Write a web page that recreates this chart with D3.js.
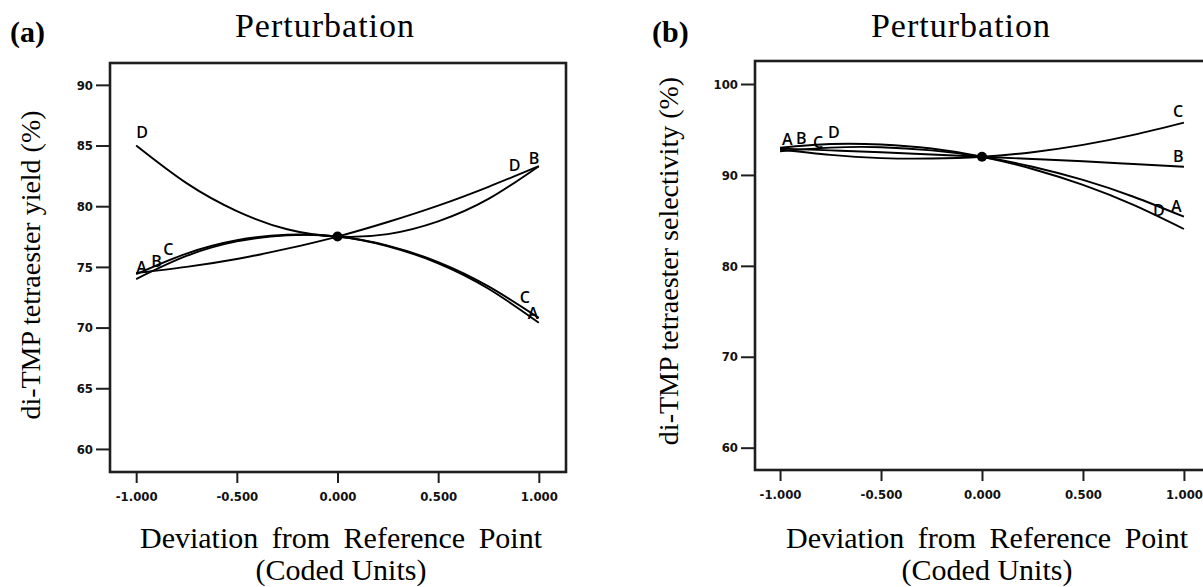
<!DOCTYPE html>
<html><head><meta charset="utf-8">
<script src="https://cdn.jsdelivr.net/npm/d3@7"></script>
<style>
html,body{margin:0;padding:0;background:#fff;}
svg{display:block;}
</style></head>
<body>
<svg id="chart" width="1203" height="587"></svg>
<script>
// ---- data ----
const xCoded = [-1, -0.75, -0.5, -0.25, 0, 0.25, 0.5, 0.75, 1];

// (a) di-TMP tetraester yield (%)
const yieldA = [74.0, 75.9, 77.1, 77.6, 77.5, 76.7, 75.3, 73.2, 70.4];
const yieldB = [74.5, 75.0, 75.65, 76.5, 77.5, 78.7, 80.05, 81.6, 83.3];
const yieldC = [74.4, 76.1, 77.2, 77.65, 77.5, 76.75, 75.4, 73.4, 70.8];
const yieldD = [85.0, 81.9, 79.6, 78.1, 77.5, 77.7, 78.75, 80.6, 83.3];

// (b) di-TMP tetraester selectivity (%)
const selA = [92.6, 93.0, 93.05, 92.7, 92.0, 90.9, 89.45, 87.6, 85.4];
const selB = [92.9, 92.7, 92.5, 92.25, 92.0, 91.75, 91.5, 91.2, 90.9];
const selC = [92.8, 92.2, 91.85, 91.8, 92.0, 92.5, 93.3, 94.4, 95.75];
const selD = [93.0, 93.4, 93.35, 92.9, 92.0, 90.65, 88.9, 86.7, 84.05];

const xTicks = [-1, -0.5, 0, 0.5, 1];
const xTickLabels = ["-1.000", "-0.500", "0.000", "0.500", "1.000"];
const yTicksA = [60, 65, 70, 75, 80, 85, 90];
const yTicksB = [60, 70, 80, 90, 100];
const refA = 77.5, refB = 92.0;

// ---- drawing ----
const svg = d3.select("#chart");
const serif = "'Liberation Serif','Times New Roman',serif";
const tickFont = "'DejaVu Sans Condensed','DejaVu Sans',sans-serif";
const labFont = "'Open Sans','DejaVu Sans',sans-serif";

function panel(cfg) {
  const g = svg.append("g");
  const x = d3.scaleLinear().domain(cfg.xDomain).range([cfg.left, cfg.right]);
  const y = d3.scaleLinear().domain(cfg.yDomain).range([cfg.bottom, cfg.top]);

  // frame
  g.append("rect").attr("x", cfg.left).attr("y", cfg.top)
    .attr("width", cfg.right - cfg.left).attr("height", cfg.bottom - cfg.top)
    .attr("fill", "none").attr("stroke", "#1e1e1e").attr("stroke-width", 2.6);

  // y axis
  const ya = g.append("g").attr("transform", `translate(${cfg.left - 1},0)`)
    .call(d3.axisLeft(y).tickValues(cfg.yTicks).tickSize(13).tickPadding(3).tickFormat(d3.format("d")));
  ya.select(".domain").remove();
  ya.selectAll("line").attr("stroke", "#1e1e1e").attr("stroke-width", 2);
  ya.selectAll("text").attr("font-family", tickFont).attr("font-weight", "bold")
    .attr("font-size", 13).attr("fill", "#111");

  // x axis
  const xa = g.append("g").attr("transform", `translate(0,${cfg.bottom + 1})`)
    .call(d3.axisBottom(x).tickValues(xTicks).tickSize(10).tickPadding(9)
      .tickFormat((d, i) => xTickLabels[i]));
  xa.select(".domain").remove();
  xa.selectAll("line").attr("stroke", "#1e1e1e").attr("stroke-width", 2);
  xa.selectAll("text").attr("font-family", tickFont).attr("font-weight", "bold")
    .attr("font-size", 13).attr("fill", "#111");

  // curves
  const line = d3.line().x((d, i) => x(xCoded[i])).y(d => y(d)).curve(d3.curveNatural);
  cfg.series.forEach(s => {
    g.append("path").datum(s.values).attr("d", line)
      .attr("fill", "none").attr("stroke", "#000").attr("stroke-width", 1.9);
  });

  // curve labels anchored at curve ends
  cfg.labels.forEach(l => {
    const s = cfg.series.find(q => q.name === l.name);
    const idx = l.end === "left" ? 0 : xCoded.length - 1;
    g.append("text")
      .attr("x", x(xCoded[idx]) + l.dx).attr("y", y(s.values[idx]) + l.dy)
      .attr("font-family", labFont).attr("font-weight", 600).attr("font-size", 16)
      .attr("fill", "#000").text(l.name);
  });

  // reference point
  g.append("circle").attr("cx", x(0)).attr("cy", y(cfg.ref)).attr("r", 5).attr("fill", "#000");

  // texts
  svg.append("text").attr("x", cfg.tagX).attr("y", 42).attr("font-family", serif)
    .attr("font-weight", "bold").attr("font-size", 30).text(cfg.tag);
  svg.append("text").attr("x", cfg.titleX).attr("y", 37).attr("text-anchor", "middle")
    .attr("font-family", serif).attr("font-size", 34).attr("letter-spacing", 1).text("Perturbation");
  svg.append("text").attr("x", cfg.xTitleX).attr("y", 548).attr("text-anchor", "middle")
    .attr("font-family", serif).attr("font-size", 30).attr("word-spacing", 6)
    .text("Deviation from Reference Point");
  svg.append("text").attr("x", cfg.xTitleX).attr("y", 580).attr("text-anchor", "middle")
    .attr("font-family", serif).attr("font-size", 30).text("(Coded Units)");
  svg.append("text").attr("transform", `translate(${cfg.yTitleX},${cfg.yTitleY}) rotate(-90)`)
    .attr("text-anchor", "middle").attr("font-family", serif).attr("font-size", 28)
    .text(cfg.yTitle);
}

panel({
  left: 110, right: 566, top: 63, bottom: 472,
  xDomain: [-1.13, 1.135], yDomain: [58.1, 91.8],
  yTicks: yTicksA, ref: refA,
  series: [
    {name: "A", values: yieldA}, {name: "B", values: yieldB},
    {name: "C", values: yieldC}, {name: "D", values: yieldD}
  ],
  labels: [
    {name: "D", end: "left", dx: 0, dy: -8},
    {name: "A", end: "left", dx: 0, dy: -6},
    {name: "B", end: "left", dx: 15, dy: -6},
    {name: "C", end: "left", dx: 27, dy: -19},
    {name: "D", end: "right", dx: -30, dy: 5},
    {name: "B", end: "right", dx: -10, dy: -2},
    {name: "C", end: "right", dx: -19, dy: -15},
    {name: "A", end: "right", dx: -11, dy: -4}
  ],
  tag: "(a)", tagX: 10, titleX: 325, xTitleX: 341,
  yTitle: "di-TMP tetraester yield (%)", yTitleX: 40, yTitleY: 265
});

panel({
  left: 755, right: 1211, top: 61, bottom: 470,
  xDomain: [-1.124, 1.134], yDomain: [57.545, 102.53],
  yTicks: yTicksB, ref: refB,
  series: [
    {name: "A", values: selA}, {name: "B", values: selB},
    {name: "C", values: selC}, {name: "D", values: selD}
  ],
  labels: [
    {name: "A", end: "left", dx: 2, dy: -6},
    {name: "B", end: "left", dx: 16, dy: -5},
    {name: "C", end: "left", dx: 33, dy: -1},
    {name: "D", end: "left", dx: 48, dy: -10},
    {name: "C", end: "right", dx: -11, dy: -6},
    {name: "B", end: "right", dx: -11, dy: -5},
    {name: "D", end: "right", dx: -31, dy: -13},
    {name: "A", end: "right", dx: -13, dy: -5}
  ],
  tag: "(b)", tagX: 652, titleX: 961, xTitleX: 987,
  yTitle: "di-TMP tetraester selectivity (%)", yTitleX: 678, yTitleY: 261
});
</script>
</body></html>
